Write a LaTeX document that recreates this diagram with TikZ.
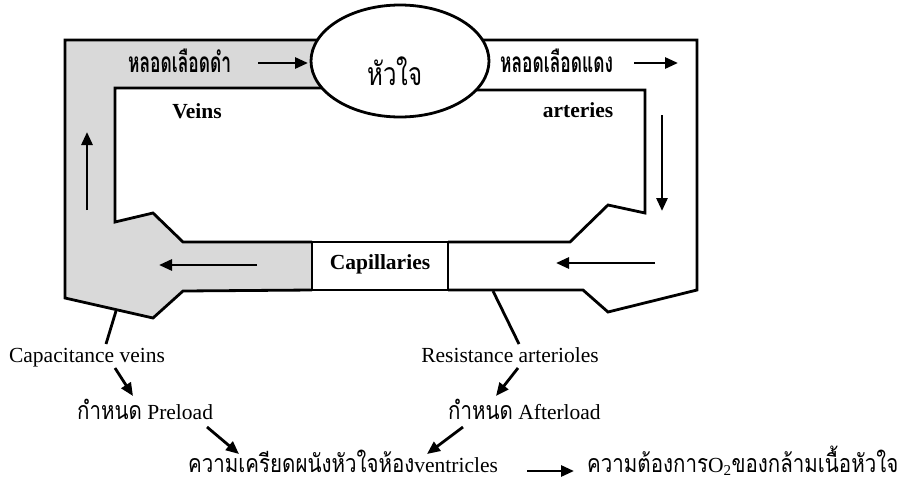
\documentclass[tikz,border=0pt]{standalone}
\usepackage{fontspec}
\setmainfont{Liberation Serif}
\newfontfamily\thai[Script=Thai, FakeStretch=0.82]{Loma}
\newfontfamily\thaitop[Script=Thai, FakeStretch=0.62]{Loma}
\newfontfamily\thaiheart[Script=Thai, FakeStretch=0.75]{Loma}
\newcommand\thaibody{\fontsize{25}{27}\selectfont\thai}
\usetikzlibrary{arrows.meta,shapes.geometric}
\begin{document}
\begin{tikzpicture}[x=1pt,y=-1pt,
  wall/.style={line width=2.8pt, line join=miter},
  flow/.style={line width=2.8pt, -{Triangle[length=13pt,width=11pt]}},
  tie/.style={line width=2.8pt},
  en/.style={inner sep=0pt, font=\fontsize{21.5}{24}\selectfont},
  enb/.style={inner sep=0pt, font=\fontsize{21.5}{24}\selectfont\bfseries},
  thb/.style={inner sep=0pt, font=\fontsize{28}{30}\selectfont\thaitop\bfseries},
]
\useasboundingbox (0,0) rectangle (900,483);
% gray venous side
\fill[black!15] (65,40) -- (340,40) -- (340,88) -- (115,88) -- (115,222) -- (153,213) -- (183,242)
  -- (312,242) -- (312,290) -- (183,291) -- (153,318) -- (65,298) -- cycle;
% left walls
\draw[wall] (340,40) -- (65,40) -- (65,298) -- (153,318) -- (183,291) -- (312,290);
\draw[wall] (340,88) -- (115,88) -- (115,222) -- (153,213) -- (183,242) -- (312,242);
% right walls
\draw[wall] (460,40) -- (697,40) -- (697,290) -- (608,312) -- (583,290) -- (448,290);
\draw[wall] (460,90) -- (645,90) -- (645,213) -- (608,205) -- (570,242) -- (448,242);
% capillaries box
\node[draw, line width=2.8pt, fill=white, minimum width=136pt, minimum height=48pt, inner sep=0pt] (cap) at (380,266) {};
\node[enb, anchor=base] (captxt) at (380,269) {Capillaries};
% heart
\node[draw, ellipse, line width=2.8pt, fill=white, minimum width=178pt, minimum height=112pt, inner sep=0pt] (heart) at (400,61) {};
\node[inner sep=0pt, anchor=base, font=\fontsize{32}{34}\selectfont\thaiheart] (hearttxt) at (395,85) {หัวใจ};
% labels in vessels
\node[thb, anchor=base west] (vein) at (128,72) {หลอดเลือดดำ};
\node[thb, anchor=base west] (artery) at (500,72) {หลอดเลือดแดง};
\node[enb, anchor=base] (veins) at (197,118) {Veins};
\node[enb, anchor=base] (arteries) at (578,117) {arteries};
% flow arrows
\coordinate (a1s) at (258,63); \coordinate (a1e) at (308,63);
\coordinate (a2s) at (634,63); \coordinate (a2e) at (678,63);
\coordinate (a3s) at (662,115); \coordinate (a3e) at (662,211);
\coordinate (a4s) at (655,263); \coordinate (a4e) at (556,263);
\coordinate (a5s) at (257,265); \coordinate (a5e) at (159,265);
\coordinate (a6s) at (87,210); \coordinate (a6e) at (87,132);
\draw[flow] (a1s) -- (a1e);
\draw[flow] (a2s) -- (a2e);
\draw[flow] (a3s) -- (a3e);
\draw[flow] (a4s) -- (a4e);
\draw[flow] (a5s) -- (a5e);
\draw[flow] (a6s) -- (a6e);
% lower labels
\node[en, anchor=base] (capv) at (87,362) {Capacitance veins};
\node[en, anchor=base] (resa) at (510,362) {Resistance arterioles};
\node[en, anchor=base west] (pre) at (77,419) {{\thaibody กำหนด} Preload};
\node[en, anchor=base west] (aft) at (448,419) {{\thaibody กำหนด} Afterload};
\node[en, anchor=base west, text depth=0pt] (stress) at (188,472) {{\thaibody ความเครียดผนังหัวใจห้อง}ventricles};
\node[en, anchor=base west, text depth=0pt] (demand) at (587,472) {{\thaibody ความต้องการ}O\textsubscript{2}{\thaibody ของกล้ามเนื้อหัวใจ}};
% ties
\coordinate (t1s) at (116,311); \coordinate (t1e) at (106,344);
\coordinate (t2s) at (493,291); \coordinate (t2e) at (519,344);
\draw[tie] (t1s) -- (t1e);
\draw[tie] (t2s) -- (t2e);
% lower arrows
\coordinate (b1s) at (115,368); \coordinate (b1e) at (133,396);
\coordinate (b2s) at (207,427); \coordinate (b2e) at (239,454);
\coordinate (b3s) at (518,368); \coordinate (b3e) at (496,396);
\coordinate (b4s) at (463,427); \coordinate (b4e) at (427,454);
\coordinate (b5s) at (527,471); \coordinate (b5e) at (574,471);
\draw[flow] (b1s) -- (b1e);
\draw[flow] (b2s) -- (b2e);
\draw[flow] (b3s) -- (b3e);
\draw[flow] (b4s) -- (b4e);
\draw[flow] (b5s) -- (b5e);
\end{tikzpicture}
\end{document}
